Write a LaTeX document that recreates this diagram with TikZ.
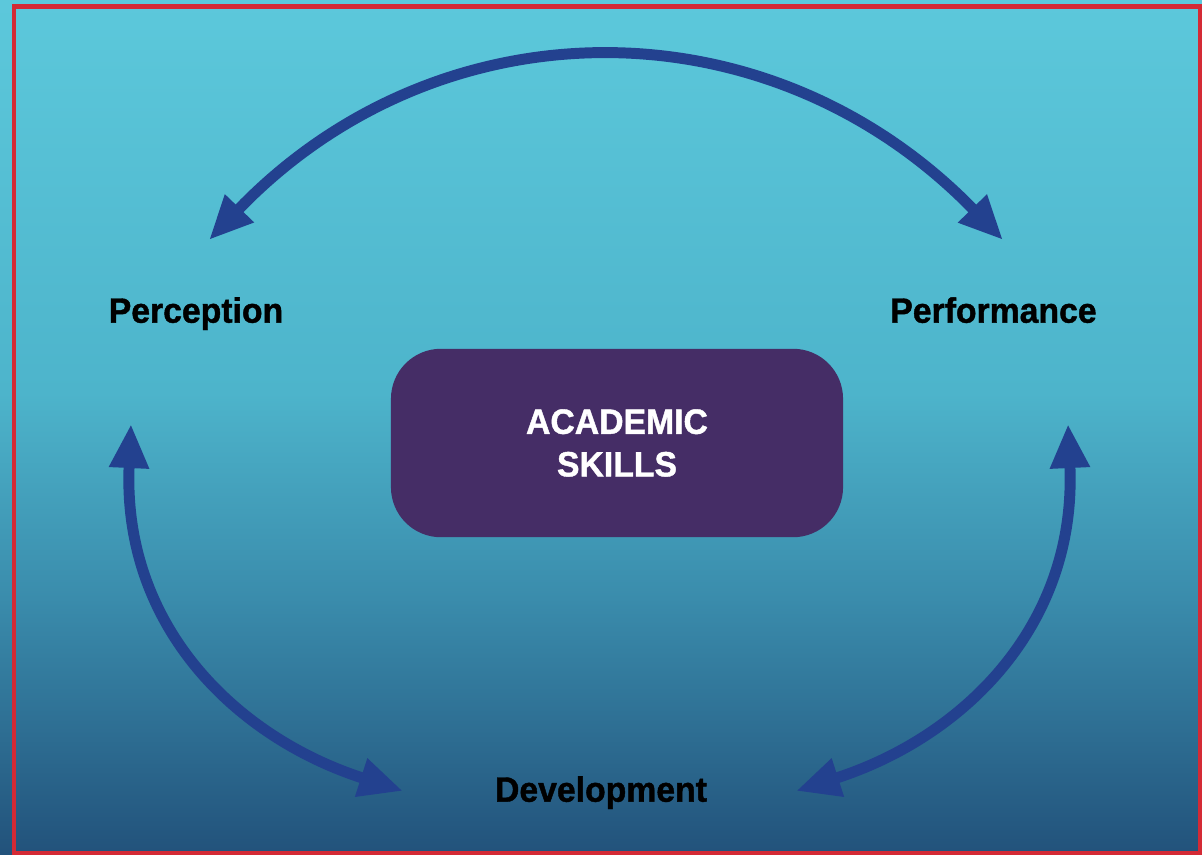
\documentclass[tikz,border=0pt]{standalone}
\usepackage{fontspec}
\setmainfont{Liberation Sans}
\newfontfamily\heavyface{Liberation Sans}[FakeBold=1.2,FakeStretch=0.96]
\usetikzlibrary{arrows.meta,positioning}

\definecolor{skyTop}{HTML}{5CC8DB}
\definecolor{skyMid}{HTML}{4DB4CB}
\definecolor{skyDeep}{HTML}{3A8CAC}
\definecolor{skyLow}{HTML}{22527B}
\definecolor{loopBlue}{HTML}{23418F}
\definecolor{boxPurple}{HTML}{452D66}
\definecolor{frameRed}{HTML}{D42A35}

\pgfdeclareverticalshading{skyfade}{100bp}{color(0bp)=(skyLow); color(25bp)=(skyLow);
	color(40bp)=(skyDeep); color(52bp)=(skyMid); color(75bp)=(skyTop); color(100bp)=(skyTop)}

\begin{document}
\begin{tikzpicture}[x=0.025cm,y=-0.025cm,
		phase/.style={anchor=base,inner sep=0pt,text=black,font=\heavyface\bfseries\fontsize{25}{29}\selectfont},
		hub/.style={fill=boxPurple,rounded corners=1.25cm,minimum width=11.3cm,minimum height=4.71cm,
			inner sep=0pt,text=white,align=center,font=\heavyface\bfseries\fontsize{25}{30.3}\selectfont},
		twoway/.style={{Triangle[length=1.1cm,width=0.93cm]}-{Triangle[length=1.1cm,width=0.93cm]},
			draw=loopBlue,line width=7.8pt}]
			\useasboundingbox (0,0) rectangle (1202,854);
			\shade[shading=skyfade] (0,0) rectangle (1202,854);
			\draw[frameRed,line width=2.85pt] (14,6.5) rectangle (1200,852.5);

			\node[hub] (skills) at (617,443) {ACADEMIC\\SKILLS};
			\node[phase] (perception) at (196,322.7) {Perception};
			\node[phase] (performance) at (993.5,322.7) {Performance};
			\node[phase] (development) at (601,801.7) {Development};

			\coordinate (arcL) at (209,240);
			\coordinate (arcR) at (1003,240);
			\coordinate (leftUp) at (131,424);
			\coordinate (leftDown) at (403,791);
			\coordinate (rightUp) at (1068,424);
			\coordinate (rightDown) at (796,791);

			\draw[twoway] (arcL) .. controls (440,0) and (770,0) .. (arcR);
			\draw[twoway] (leftUp) .. controls (122,625) and (235,737) .. (leftDown);
			\draw[twoway] (rightUp) .. controls (1077,625) and (964,737) .. (rightDown);
		\end{tikzpicture}
\end{document}
